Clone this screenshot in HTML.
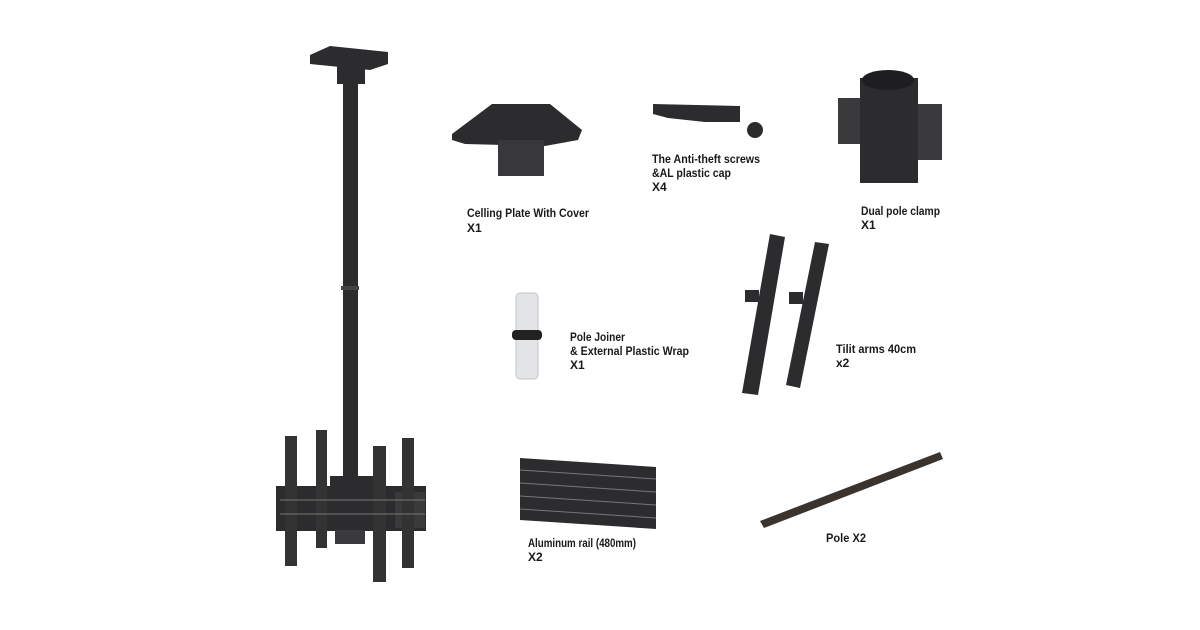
<!DOCTYPE html>
<html><head><meta charset="utf-8"><style>
html,body{margin:0;padding:0;background:#fff;}
svg{display:block}
text{font-family:"Liberation Sans",sans-serif;font-weight:bold;font-size:12px;fill:#1a1a1a}
</style></head><body>
<svg width="1200" height="630" viewBox="0 0 1200 630" xmlns="http://www.w3.org/2000/svg">
<g fill="#2c2c2e">
<!-- main mount -->
<polygon points="310,55 330,46 388,52 388,64 370,70 310,64"/>
<rect x="337" y="62" width="28" height="22"/>
<rect x="343" y="80" width="15" height="400"/>
<rect x="341" y="286" width="18" height="4" fill="#444"/>
<rect x="330" y="476" width="45" height="22"/>
<rect x="276" y="486" width="150" height="45"/>
<rect x="395" y="492" width="30" height="36" fill="#3a3a3c"/>
<g fill="#333">
<rect x="285" y="436" width="12" height="130"/>
<rect x="316" y="430" width="11" height="118"/>
<rect x="373" y="446" width="13" height="136"/>
<rect x="402" y="438" width="12" height="130"/>
</g>
<rect x="335" y="530" width="30" height="14" fill="#3a3a3c"/>
<!-- ceiling plate -->
<polygon points="452,134 492,104 550,104 582,130 578,140 545,146 465,144 452,140"/>
<rect x="498" y="140" width="46" height="36" fill="#38383a"/>
<!-- cap -->
<polygon points="653,104 740,106 740,122 705,122 668,118 653,114"/>
<circle cx="755" cy="130" r="8"/>
<!-- dual clamp -->
<rect x="860" y="78" width="58" height="105"/>
<rect x="838" y="98" width="22" height="46" fill="#3a3a3c"/>
<rect x="918" y="104" width="24" height="56" fill="#3a3a3c"/>
<ellipse cx="888" cy="80" rx="26" ry="10" fill="#1e1e20"/>
<!-- tilt arms -->
<polygon points="770,234 785,237 758,395 742,393"/>
<polygon points="815,242 829,244 800,388 786,385"/>
<rect x="745" y="290" width="14" height="12"/>
<rect x="789" y="292" width="14" height="12"/>
<!-- rail -->
<polygon points="520,458 656,467 656,529 520,520"/>
<!-- pole -->
<polygon points="760,521 940,452 943,459 764,528" fill="#3a332e"/>
</g>
<g stroke="#777" stroke-width="1">
<line x1="520" y1="470" x2="656" y2="479"/><line x1="520" y1="483" x2="656" y2="492"/><line x1="520" y1="496" x2="656" y2="505"/><line x1="520" y1="509" x2="656" y2="518"/>
<line x1="280" y1="500" x2="425" y2="500"/><line x1="280" y1="514" x2="425" y2="514"/>
</g>
<!-- pole joiner -->
<rect x="516" y="293" width="22" height="86" rx="4" fill="#e2e4e6" stroke="#c4c6c8"/>
<rect x="512" y="330" width="30" height="10" rx="4" fill="#222"/>
<text x="467" y="217" textLength="122" lengthAdjust="spacingAndGlyphs">Celling Plate With Cover</text>
<text x="467" y="232">X1</text>
<text x="652" y="163" textLength="108" lengthAdjust="spacingAndGlyphs">The Anti-theft screws</text>
<text x="652" y="177" textLength="79" lengthAdjust="spacingAndGlyphs">&amp;AL plastic cap</text>
<text x="652" y="191">X4</text>
<text x="861" y="215" textLength="79" lengthAdjust="spacingAndGlyphs">Dual pole clamp</text>
<text x="861" y="229">X1</text>
<text x="570" y="341" textLength="55" lengthAdjust="spacingAndGlyphs">Pole Joiner</text>
<text x="570" y="355" textLength="119" lengthAdjust="spacingAndGlyphs">&amp; External Plastic Wrap</text>
<text x="570" y="369">X1</text>
<text x="836" y="353" textLength="80" lengthAdjust="spacingAndGlyphs">Tilit arms 40cm</text>
<text x="836" y="367">x2</text>
<text x="528" y="547" textLength="108" lengthAdjust="spacingAndGlyphs">Aluminum rail (480mm)</text>
<text x="528" y="561">X2</text>
<text x="826" y="542" textLength="40" lengthAdjust="spacingAndGlyphs">Pole X2</text>
</svg>
</body></html>
